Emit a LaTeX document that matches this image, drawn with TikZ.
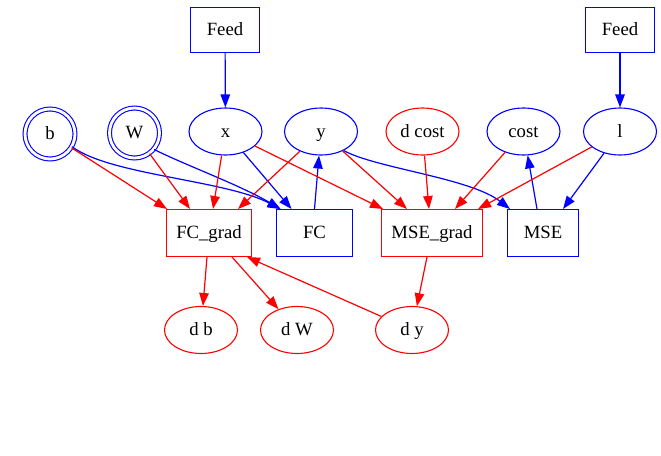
\documentclass[tikz,border=0pt]{standalone}
\usepackage{fontspec}
\setmainfont{Liberation Serif}
\definecolor{fwd}{HTML}{0000FF}
\definecolor{grad}{HTML}{FF0000}
\usetikzlibrary{arrows.meta, shapes.geometric}

\tikzset{
  var/.style={ellipse, draw, line width=1.1pt, minimum width=73pt, minimum height=47pt, inner sep=0pt, text height=15.5pt, text depth=4pt},
  param/.style={circle, draw=fwd, line width=1.1pt, double=white, double distance=2.8pt, minimum size=50pt, inner sep=0pt, text height=15.5pt, text depth=4pt},
  op/.style={rectangle, draw, line width=1pt, minimum height=47pt, inner sep=0pt, text height=15.5pt, text depth=4pt},
  flow/.style={line width=1.2pt, -{Triangle[length=13pt,width=9.5pt]}},
}

\begin{document}
\begin{tikzpicture}[x=1pt, y=-1pt, font=\fontsize{18.7pt}{21pt}\selectfont]
  \useasboundingbox (0,0) rectangle (661,455);

  % inputs
  \node[op, draw=fwd, minimum width=69pt, minimum height=45pt] (feedx) at (225,30) {Feed};
  \node[op, draw=fwd, minimum width=69pt, minimum height=45pt] (feedl) at (620,30) {Feed};

  % variables
  \node[param] (b) at (50,134) {b};
  \node[param] (W) at (134.5,133) {W};
  \node[var, draw=fwd] (x) at (225.5,131.5) {x};
  \node[var, draw=fwd] (y) at (321,131.5) {y};
  \node[var, draw=grad] (dcost) at (422.5,131.5) {d cost};
  \node[var, draw=fwd] (cost) at (523.5,131.5) {cost};
  \node[var, draw=fwd] (l) at (620,131.5) {l};

  % ops
  \node[op, draw=grad, minimum width=85pt] (fcgrad) at (209,233) {FC\_grad};
  \node[op, draw=fwd, minimum width=76pt] (fc) at (314.5,233) {FC};
  \node[op, draw=grad, minimum width=101pt] (msegrad) at (432,233) {MSE\_grad};
  \node[op, draw=fwd, minimum width=71pt] (mse) at (543,233) {MSE};

  % gradients
  \node[var, draw=grad] (db) at (201,330) {d b};
  \node[var, draw=grad] (dW) at (297,330) {d W};
  \node[var, draw=grad] (dy) at (412,330) {d y};

  % forward
  \draw[flow, fwd] (feedx) -- (x);
  \draw[flow, fwd] (feedl) -- (l);
  \draw[flow, fwd] (b.-30) .. controls (110,175) and (225,180) .. ([xshift=-34pt]fc.north);
  \draw[flow, fwd] (W.-40) .. controls (185,165) and (240,185) .. ([xshift=-34pt]fc.north);
  \draw[flow, fwd] (x) -- ([xshift=-23pt]fc.north);
  \draw[flow, fwd] (fc.north) -- (y);
  \draw[flow, fwd] (y.-40) .. controls (375,168) and (470,178) .. ([xshift=-33pt]mse.north);
  \draw[flow, fwd] (l) -- ([xshift=20pt]mse.north);
  \draw[flow, fwd] ([xshift=-6pt]mse.north) -- (cost);

  % backward
  \draw[flow, grad] (b) -- ([xshift=-42pt]fcgrad.north);
  \draw[flow, grad] (W) -- ([xshift=-19pt]fcgrad.north);
  \draw[flow, grad] (x) -- ([xshift=4pt]fcgrad.north);
  \draw[flow, grad] (y) -- ([xshift=29pt]fcgrad.north);
  \draw[flow, grad] (x) -- ([xshift=-49pt]msegrad.north);
  \draw[flow, grad] (y) -- ([xshift=-25pt]msegrad.north);
  \draw[flow, grad] (dcost) -- ([xshift=-3pt]msegrad.north);
  \draw[flow, grad] (cost) -- ([xshift=23pt]msegrad.north);
  \draw[flow, grad] (l) -- ([xshift=46pt]msegrad.north);
  \draw[flow, grad] ([xshift=-2pt]fcgrad.south) -- (db);
  \draw[flow, grad] ([xshift=23pt]fcgrad.south) -- (dW);
  \draw[flow, grad] (dy) -- ([xshift=-5pt]fcgrad.south east);
  \draw[flow, grad] ([xshift=-5pt]msegrad.south) -- (dy);
\end{tikzpicture}
\end{document}
